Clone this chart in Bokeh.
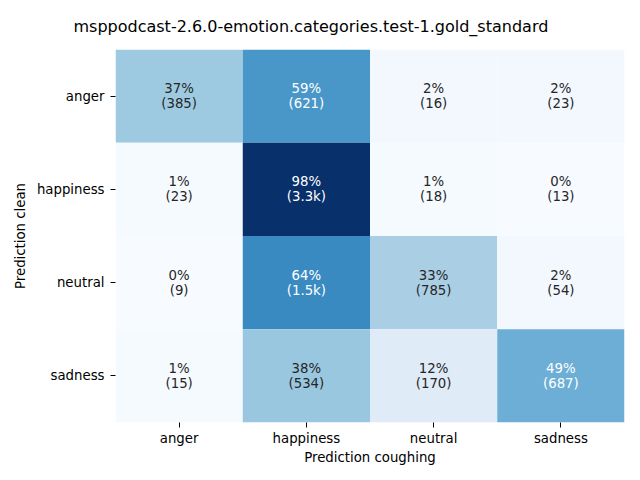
from bokeh.plotting import figure
from bokeh.models import FactorRange, ColumnDataSource, LinearColorMapper
from bokeh.core.properties import value
from bokeh.embed import file_html
from bokeh.resources import INLINE

categories = ["anger", "happiness", "neutral", "sadness"]
# rows: Prediction clean, columns: Prediction coughing
pct_anger = [37, 59, 2, 2]
pct_happiness = [1, 98, 1, 0]
pct_neutral = [0, 64, 33, 2]
pct_sadness = [1, 38, 12, 49]
cnt_anger = ["385", "621", "16", "23"]
cnt_happiness = ["23", "3.3k", "18", "13"]
cnt_neutral = ["9", "1.5k", "785", "54"]
cnt_sadness = ["15", "534", "170", "687"]
title_text = "msppodcast-2.6.0-emotion.categories.test-1.gold_standard"

pct_rows = [pct_anger, pct_happiness, pct_neutral, pct_sadness]
cnt_rows = [cnt_anger, cnt_happiness, cnt_neutral, cnt_sadness]

blues9 = ['#f7fbff', '#deebf7', '#c6dbef', '#9ecae1', '#6baed6',
          '#4292c6', '#2171b5', '#08519c', '#08306b']


def hex2rgb(h):
    return [int(h[i:i + 2], 16) for i in (1, 3, 5)]


def interp(t):
    t = min(max(t, 0.0), 1.0)
    pos = t * (len(blues9) - 1)
    i = min(int(pos), len(blues9) - 2)
    f = pos - i
    a, b = hex2rgb(blues9[i]), hex2rgb(blues9[i + 1])
    return [a[k] + (b[k] - a[k]) * f for k in range(3)]


palette = []
for k in range(256):
    r, g, b = interp(k / 255)
    palette.append("#%02x%02x%02x" % (round(r), round(g), round(b)))

vmax = max(max(r) for r in pct_rows)
vmin = 0


def lum(rgb):
    out = []
    for c in rgb:
        c = c / 255
        out.append(c / 12.92 if c <= 0.03928 else ((c + 0.055) / 1.055) ** 2.4)
    return 0.2126 * out[0] + 0.7152 * out[1] + 0.0722 * out[2]


xs, ys, vals, labels, tcolors = [], [], [], [], []
for ri, rc in enumerate(categories):
    for ci, cc in enumerate(categories):
        v = pct_rows[ri][ci]
        xs.append(cc)
        ys.append(rc)
        vals.append(v)
        labels.append("%d%%\n(%s)" % (v, cnt_rows[ri][ci]))
        rgb = interp((v - vmin) / (vmax - vmin))
        tcolors.append("#ffffff" if lum(rgb) < 0.408 else "#262626")

src = ColumnDataSource(dict(x=xs, y=ys, v=vals, label=labels, tc=tcolors))
mapper = LinearColorMapper(palette=palette, low=vmin, high=vmax)

p = figure(width=632, height=472, output_backend="svg", toolbar_location=None,
           x_range=FactorRange(factors=categories, range_padding=0),
           y_range=FactorRange(factors=list(reversed(categories)), range_padding=0),
           min_border_left=115, min_border_right=8, min_border_top=48,
           min_border_bottom=50)
p.rect(x="x", y="y", width=1, height=1, source=src,
       fill_color={"field": "v", "transform": mapper}, line_color=None)
p.text(x="x", y="y", text="label", source=src, text_align="center",
       text_baseline="middle", text_color="tc", text_font=value("DejaVu Sans"),
       text_font_size="13.3px", text_line_height=1.0)

p.title.text = title_text
p.title.align = "left"
p.title.text_font = "DejaVu Sans"
p.title.text_font_size = "16px"
p.title.text_font_style = "normal"
p.title.text_color = "#000000"
p.title.offset = -42
p.title.standoff = 28

p.xgrid.visible = False
p.ygrid.visible = False
p.outline_line_color = None
for ax in (p.xaxis[0], p.yaxis[0]):
    ax.axis_line_color = None
    ax.major_tick_out = 5
    ax.major_tick_in = 0
    ax.major_tick_line_color = "#000000"
    ax.major_tick_line_width = 1
    ax.major_label_text_font = "DejaVu Sans"
    ax.major_label_text_font_size = "13.3px"
    ax.major_label_text_color = "#000000"
    ax.axis_label_text_font = "DejaVu Sans"
    ax.axis_label_text_font_size = "13.3px"
    ax.axis_label_text_font_style = "normal"
    ax.axis_label_text_color = "#000000"
    ax.minor_tick_line_color = None
p.xaxis.major_label_standoff = 3
p.yaxis.major_label_standoff = 6
p.xaxis.axis_label = "Prediction coughing"
p.yaxis.axis_label = "Prediction clean"
p.yaxis.major_label_orientation = "horizontal"
p.xaxis.axis_label_standoff = 1
p.yaxis.axis_label_standoff = 6

open("out.html", "w").write(file_html(p, INLINE))
